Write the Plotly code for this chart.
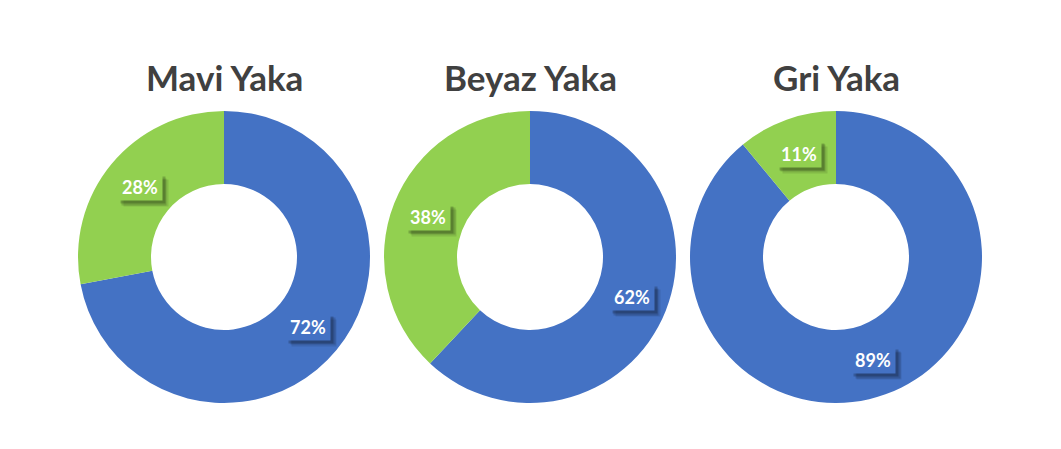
import math
import plotly.graph_objects as go

titles = ["Mavi Yaka", "Beyaz Yaka", "Gri Yaka"]
blue_values = [72, 62, 89]
green_values = [28, 38, 11]
colors = ["#4472C4", "#92D050"]

W, H = 1061, 449
centers_px = [224, 530, 836]
cy_px = 257
R_px = 146
hole = 0.5

fig = go.Figure()
annotations = []
for i, t in enumerate(titles):
    cx = centers_px[i]
    x0, x1 = (cx - R_px) / W, (cx + R_px) / W
    y0, y1 = (H - (cy_px + R_px)) / H, (H - (cy_px - R_px)) / H
    vals = [blue_values[i], green_values[i]]
    fig.add_trace(go.Pie(
        values=vals, labels=["Blue", "Green"], sort=False, direction="clockwise",
        rotation=0, hole=hole, textinfo="none", hoverinfo="skip",
        marker=dict(colors=colors, line=dict(width=0)),
        domain=dict(x=[x0, x1], y=[y0, y1]), showlegend=False,
    ))
    annotations.append(dict(
        x=cx / W, y=(H - 77) / H, xref="paper", yref="paper", text=f"<b>{t}</b>",
        xanchor="center", yanchor="middle",
        showarrow=False, font=dict(family="Lato", size=35, color="#404040"),
    ))
    total = sum(vals)
    cum = 0
    rmid = R_px * (1 + hole) / 2
    for v, c in zip(vals, colors):
        ang = (cum + v / 2) / total * 2 * math.pi
        cum += v
        px = cx + rmid * math.sin(ang)
        py = cy_px - rmid * math.cos(ang)
        xp, yp = px / W, (H - py) / H
        label = f"<b>{round(v)}%</b>"
        for k, op in enumerate([0.10, 0.14, 0.2]):
            s = 6 - k * 1.5
            annotations.append(dict(
                x=xp, y=yp, xref="paper", yref="paper", text="&nbsp;", showarrow=False,
                xanchor="center", yanchor="middle", width=36, height=18,
                xshift=s, yshift=-s, bgcolor=f"rgba(0,0,0,{op})", borderpad=4,
                font=dict(family="Lato", size=6, color="rgba(0,0,0,0)"),
            ))
        annotations.append(dict(
            x=xp, y=yp, xref="paper", yref="paper", text=label, showarrow=False,
            xanchor="center", yanchor="middle", width=36, height=18,
            bgcolor=c, borderpad=4,
            font=dict(family="Lato", size=18, color="white"),
        ))

fig.update_layout(
    width=W, height=H, margin=dict(l=0, r=0, t=0, b=0),
    paper_bgcolor="white", plot_bgcolor="white",
    annotations=annotations,
)
fig.write_html("out.html", config={"displayModeBar": False},
               post_script="document.body.style.margin='0';")
